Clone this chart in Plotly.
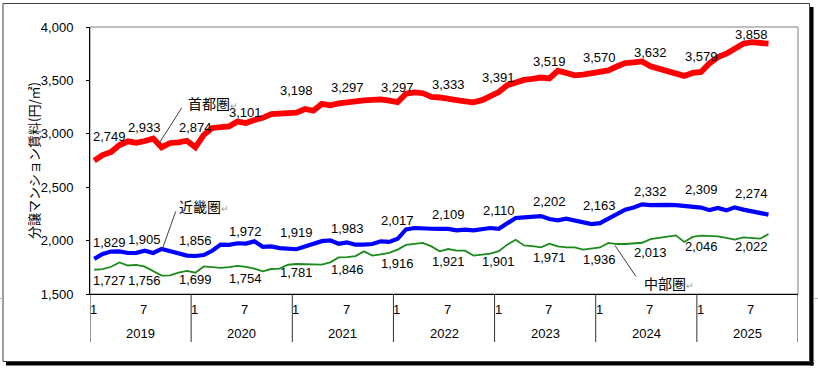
import plotly.graph_objects as go

# ---------------- data ----------------
years = ["2019", "2020", "2021", "2022", "2023", "2024", "2025"]
month_ticks = ["1", "7"]

# monthly rents, Jan 2019 - Sep 2025 (yen / m2)
shutoken = [2749, 2800, 2830, 2895, 2930, 2915, 2933, 2955, 2873, 2914, 2920, 2935,
            2874, 2990, 3055, 3060, 3070, 3115, 3101, 3130, 3150, 3185, 3190, 3195,
            3198, 3232, 3216, 3280, 3266, 3285, 3297, 3310, 3312, 3318, 3322, 3310,
            3297, 3375, 3388, 3380, 3345, 3340, 3333, 3315, 3303, 3294, 3315, 3350,
            3391, 3455, 3485, 3505, 3515, 3527, 3519, 3590, 3570, 3547, 3555, 3569,
            3570, 3594, 3630, 3663, 3668, 3678, 3632, 3610, 3590, 3570, 3542, 3570,
            3579, 3660, 3718, 3750, 3800, 3844, 3858, 3856, 3844]
kinki = [1829, 1875, 1897, 1899, 1884, 1885, 1905, 1884, 1922, 1900, 1880, 1860,
         1856, 1865, 1905, 1962, 1960, 1975, 1972, 1993, 1942, 1945, 1930, 1922,
         1919, 1945, 1975, 1995, 2002, 1970, 1983, 1962, 1962, 1968, 1993, 1988,
         2017, 2105, 2118, 2112, 2111, 2110, 2109, 2096, 2102, 2096, 2105, 2118,
         2110, 2160, 2212, 2218, 2225, 2230, 2202, 2190, 2205, 2190, 2175, 2155,
         2163, 2205, 2245, 2290, 2310, 2340, 2332, 2336, 2335, 2332, 2325, 2312,
         2309, 2285, 2305, 2283, 2311, 2290, 2274, 2250, 2243]
chubu = [1727, 1733, 1755, 1795, 1767, 1772, 1756, 1715, 1672, 1674, 1700, 1716,
         1699, 1758, 1748, 1745, 1752, 1764, 1754, 1738, 1712, 1734, 1738, 1774,
         1781, 1781, 1778, 1775, 1796, 1843, 1846, 1855, 1899, 1860, 1872, 1885,
         1916, 1960, 1970, 1978, 1946, 1900, 1921, 1906, 1906, 1860, 1868, 1878,
         1901, 1962, 2008, 1955, 1948, 1937, 1971, 1945, 1937, 1937, 1915, 1928,
         1936, 1978, 1968, 1968, 1972, 1980, 2013, 2025, 2035, 2049, 1987, 2034,
         2046, 2045, 2040, 2025, 2009, 2030, 2022, 2018, 2062]
region_names = ["首都圏", "近畿圏", "中部圏"]

# ---------------- layout helpers ----------------
W, H = 818, 373
L, R, T, B = 90, 20, 27, 79
PW, PH = W - L - R, H - T - B


def px(x):
    return (x - L) / PW


def py(y):
    return (H - B - y) / PH


FONT = "Liberation Sans, Arial, Noto Sans CJK JP, sans-serif"
JFONT = "Noto Sans CJK JP, sans-serif"
n = len(shutoken)
xs = list(range(n))
label_idx = list(range(0, n, 6))

# label offsets (px) measured per label
red_off = [24, 13.6, 20, 10.6, 22, 15, 15, 13.5, 15, 17, 15, 14, 15, 7.5]
blue_off = [16, 11.4, 15, 12, 17, 14, 18, 14.5, 18, 17.6, 18, 14, 18, 17.6]
green_off = [-10.5, -14, -7, -11.5, -9, -12, -14, -12.4, -10, -13.7, -11.6, -13, -11, -8.4]

fig = go.Figure()
fig.add_trace(go.Scatter(x=xs, y=chubu, mode="lines", name=region_names[2],
                         line=dict(color="#1a8a1a", width=1.8)))
fig.add_trace(go.Scatter(x=xs, y=kinki, mode="lines", name=region_names[1],
                         line=dict(color="#0000ff", width=4.2)))
fig.add_trace(go.Scatter(x=xs, y=shutoken, mode="lines", name=region_names[0],
                         line=dict(color="#ff0000", width=5.8)))

ann = []
for series, offs in ((shutoken, red_off), (kinki, blue_off), (chubu, green_off)):
    for k, i in enumerate(label_idx):
        a = dict(x=i, y=series[i], xref="x", yref="y", text=f"{series[i]:,}",
                 showarrow=False, yshift=offs[k], font=dict(family=FONT, size=13, color="black"))
        if i == 0:
            a.update(xanchor="left", xshift=-3)
        ann.append(a)

# category axis labels
for k, yr in enumerate(years):
    ann.append(dict(x=12 * k - 0.5, y=py(309), xref="x", yref="paper", text=month_ticks[0],
                    showarrow=False, xanchor="left", xshift=-2, yanchor="middle",
                    font=dict(family=FONT, size=13, color="black")))
    ann.append(dict(x=12 * k + 6, y=py(309), xref="x", yref="paper", text=month_ticks[1],
                    showarrow=False, xanchor="center", xshift=-1, yanchor="middle",
                    font=dict(family=FONT, size=13, color="black")))
    ann.append(dict(x=12 * k + 5.5, y=py(333), xref="x", yref="paper", text=yr,
                    showarrow=False, xanchor="center", yanchor="middle",
                    font=dict(family=FONT, size=13, color="black")))

# y-axis title
ann.append(dict(x=px(22), y=0.5, xref="paper", yref="paper", text="分譲マンション賃料(円/㎡)",
                textangle=-90, showarrow=False, font=dict(family=JFONT, size=13, color="black")))

ret = "<span style='color:#9a9a9a;font-size:9px'>↵</span>"
# series names
ann.append(dict(x=10.9, y=3290, xref="x", yref="y", text=region_names[0] + ret, showarrow=False,
                xanchor="left", font=dict(family=JFONT, size=14, color="black")))
ann.append(dict(x=9.78, y=2327, xref="x", yref="y", text=region_names[1] + ret, showarrow=False,
                xanchor="left", font=dict(family=JFONT, size=14, color="black")))
ann.append(dict(x=64.94, y=1603, xref="x", yref="y", text=region_names[2] + ret, showarrow=False,
                xanchor="left", font=dict(family=JFONT, size=14, color="black")))

shapes = []
# leader lines anchored at the series
for (ax_, ay_, dx, dy) in ((7.72, 2914, 22.4, 35), (8.08, 1921, 13.4, 37.6), (61.78, 1955, 21, -31)):
    shapes.append(dict(type="line", xref="x", yref="y", xsizemode="pixel", ysizemode="pixel",
                       xanchor=ax_, yanchor=ay_, x0=0, y0=0, x1=dx, y1=dy,
                       line=dict(color="#404040", width=1)))
# plot-area border
shapes.append(dict(type="rect", xref="paper", yref="paper", x0=0, x1=1, y0=0, y1=1,
                   line=dict(color="#7f7f7f", width=1), layer="below"))
# category separators
for k in range(len(years) + 1):
    shapes.append(dict(type="line", xref="x", yref="paper", x0=12 * k - 0.5, x1=12 * k - 0.5,
                       y0=0, y1=py(342), line=dict(color="#303030", width=1)))
# outer frame + shadow
shapes.append(dict(type="rect", xref="paper", yref="paper", x0=px(810), x1=px(813.5),
                   y0=py(365.5), y1=py(7), fillcolor="black", line=dict(width=0)))
shapes.append(dict(type="rect", xref="paper", yref="paper", x0=px(6), x1=px(813.5),
                   y0=py(365.5), y1=py(362), fillcolor="black", line=dict(width=0)))
shapes.append(dict(type="rect", xref="paper", yref="paper", x0=px(3), x1=px(809.5),
                   y0=py(361.5), y1=py(3.5), line=dict(color="#404040", width=1)))
for (a, b) in ((0, 2.5), (814, 818)):
    shapes.append(dict(type="line", xref="paper", yref="paper", x0=px(a), x1=px(b),
                       y0=py(298.5), y1=py(298.5), line=dict(color="#b0b0b0", width=1)))

fig.update_layout(
    width=W, height=H, margin=dict(l=L, r=R, t=T, b=B),
    paper_bgcolor="white", plot_bgcolor="white", showlegend=False,
    xaxis=dict(range=[-0.5, 83.5], showticklabels=False, ticks="", showline=True,
               linecolor="black", linewidth=1, showgrid=False, zeroline=False),
    yaxis=dict(range=[1500, 4000], tickvals=[1500, 2000, 2500, 3000, 3500, 4000],
               tickformat=",", ticks="outside", ticklen=3, tickcolor="black",
               showline=True, linecolor="black", linewidth=1, showgrid=False,
               zeroline=False, ticklabelstandoff=10,
               tickfont=dict(family=FONT, size=13, color="black")),
    annotations=ann, shapes=shapes,
)
fig.write_html("out.html", config={"displayModeBar": False},
               post_script="document.body.style.margin='0';document.body.style.overflow='hidden';")
